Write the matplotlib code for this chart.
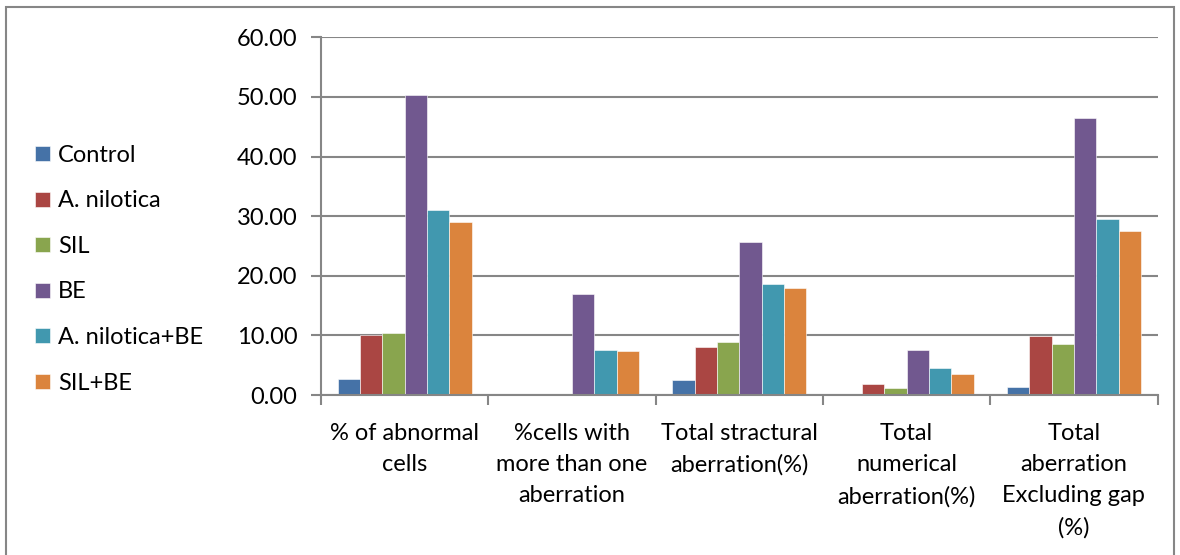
import matplotlib.pyplot as plt
import numpy as np
from matplotlib.patches import Rectangle

plt.rcParams['font.family'] = ['Lato', 'DejaVu Sans']

categories = ["% of abnormal\ncells", "%cells with\nmore than one\naberration",
              "Total stractural\naberration(%)", "Total\nnumerical\naberration(%)",
              "Total\naberration\nExcluding gap\n(%)"]
groups = ["Control", "A. nilotica", "SIL", "BE", "A. nilotica+BE", "SIL+BE"]
control = [2.7, 0.0, 2.6, 0.0, 1.3]
a_nilotica = [10.0, 0.0, 8.0, 1.9, 9.9]
sil = [10.4, 0.0, 8.9, 1.2, 8.6]
be = [50.3, 16.9, 25.6, 7.6, 46.5]
a_nilotica_be = [31.0, 7.6, 18.7, 4.5, 29.6]
sil_be = [29.0, 7.4, 17.9, 3.5, 27.5]
colors = ["#4572A7", "#AA4643", "#89A54E", "#71588F", "#4198AF", "#DB843D"]

series = [control, a_nilotica, sil, be, a_nilotica_be, sil_be]

fig = plt.figure(figsize=(11.8, 5.55), dpi=100)
ax = fig.add_axes([0.272, 0.288, 0.709, 0.645])

x = np.arange(len(categories))
w = 0.8 / len(series)
for i, (vals, name, c) in enumerate(zip(series, groups, colors)):
    ax.bar(x - 0.4 + w * (i + 0.5), vals, w, color=c, label=name,
           edgecolor="white", linewidth=0.4)

ax.set_xlim(-0.5, len(categories) - 0.5)
ax.set_ylim(0, 60)
ax.set_yticks(np.arange(0, 61, 10))
ax.set_yticklabels([f"{v:.2f}" for v in np.arange(0, 61, 10)], fontsize=17)
ax.yaxis.grid(True, color="#868686", linewidth=1.5)
ax.set_axisbelow(True)

ax.set_xticks(x)
ax.set_xticklabels(categories, fontsize=17, linespacing=1.6)
ax.set_xticks(np.arange(-0.5, len(categories)), minor=True)
ax.tick_params(axis="x", which="major", length=0, pad=20)
ax.tick_params(axis="x", which="minor", length=7, color="#868686", width=1.5)
ax.tick_params(axis="y", length=7, color="#868686", width=1.5, pad=10)

for s in ["top", "right"]:
    ax.spines[s].set_visible(False)
for s in ["left", "bottom"]:
    ax.spines[s].set_color("#868686")
    ax.spines[s].set_linewidth(1.5)

fig.legend(loc="center left", bbox_to_anchor=(0.012, 0.515), frameon=False,
           fontsize=17, handlelength=0.6, handleheight=0.6, handletextpad=0.35,
           labelspacing=1.04)

fig.patches.append(Rectangle((6 / 1180, -0.01), 1168 / 1180, 1 - 7 / 555 + 0.01,
                             transform=fig.transFigure, fill=False,
                             edgecolor="#868686", linewidth=1.5))

plt.savefig("out.png")
